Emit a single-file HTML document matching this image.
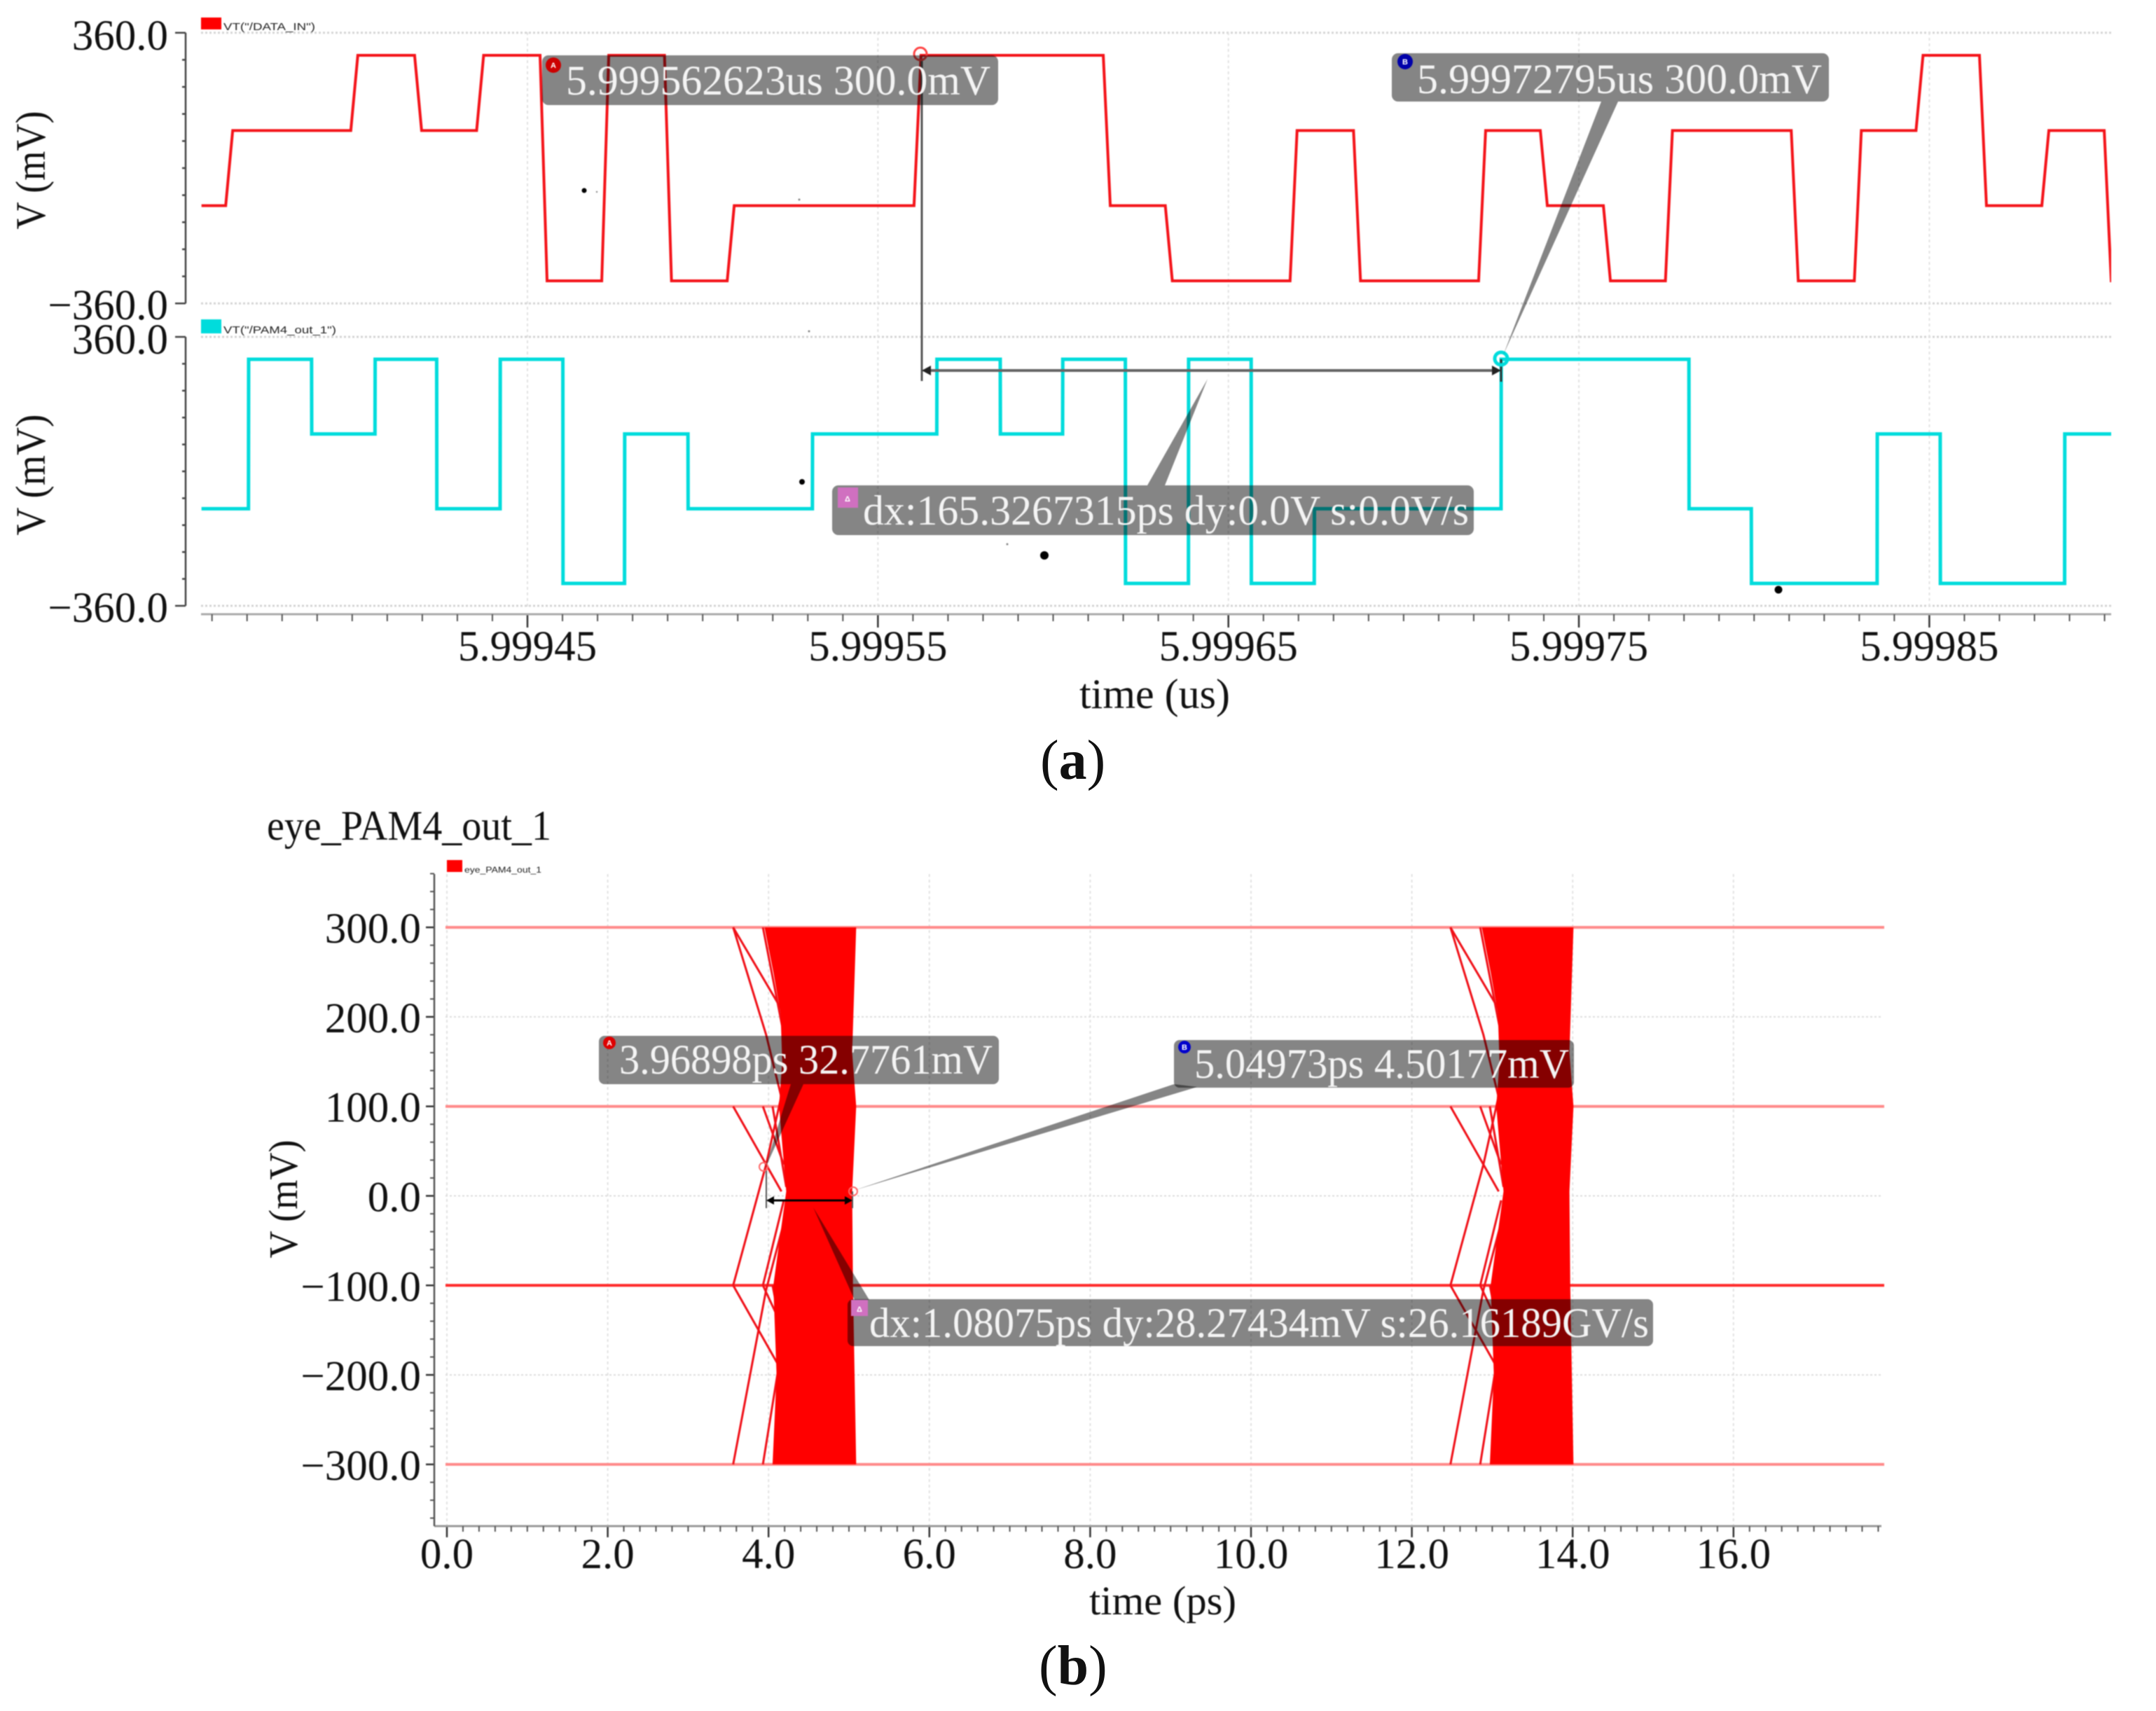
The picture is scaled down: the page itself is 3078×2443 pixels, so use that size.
<!DOCTYPE html>
<html lang="en">
<head>
<meta charset="utf-8">
<title>DATA_IN and PAM4 waveforms with eye diagram</title>
<style>
html,body{margin:0;padding:0;background:#fff;}
svg{display:block;}
text{font-family:"Liberation Serif",serif;fill:#111;}
.mk{font-family:"Liberation Sans",sans-serif;fill:#fff;font-size:11px;font-weight:bold;text-anchor:middle;}
.lbl{fill:#f4f4f4;font-size:60px;}
.lg{font-family:"Liberation Sans",sans-serif;font-size:15px;fill:#222;}
.soft{filter:blur(.8px);}
</style>
</head>
<body>
<svg id="chart" xmlns="http://www.w3.org/2000/svg" width="3078" height="2443" viewBox="0 0 3078 2443">
  <rect x="0" y="0" width="3078" height="2443" fill="#fff"/>
  <defs>
    <clipPath id="clipTop"><rect x="287" y="40" width="2727" height="840"/></clipPath>
  </defs>
  <g class="soft">
  <g id="gridA"></g>
  <g id="axesA"></g>
  <g id="tracesA" clip-path="url(#clipTop)"></g>
  <g id="gridB"></g>
  <g id="axesB"></g>
  <g id="eyeB"></g>

  <!-- panel a static text -->
  <text transform="translate(64,243) rotate(-90)" text-anchor="middle" font-size="60" textLength="169" lengthAdjust="spacingAndGlyphs">V (mV)</text>
  <text transform="translate(64,678) rotate(-90)" text-anchor="middle" font-size="60" textLength="173" lengthAdjust="spacingAndGlyphs">V (mV)</text>
  <text x="1541" y="1011" font-size="60" textLength="215" lengthAdjust="spacingAndGlyphs">time (us)</text>
  <rect x="287" y="25" width="29" height="17" fill="#f00"/>
  <text class="lg" x="319" y="43" textLength="131" lengthAdjust="spacingAndGlyphs">VT("/DATA_IN")</text>
  <rect x="287" y="456" width="29" height="20" fill="#00dcdc"/>
  <text class="lg" x="319" y="476" textLength="161" lengthAdjust="spacingAndGlyphs">VT("/PAM4_out_1")</text>

  <!-- panel a specks -->
  <g fill="#000">
    <circle cx="834" cy="272" r="3.5"/><circle cx="852" cy="274" r="1.2" fill="#888"/><circle cx="1141" cy="285" r="1.5" fill="#888"/>
    <circle cx="1155" cy="473" r="1.5" fill="#888"/><circle cx="1145" cy="688" r="4"/><circle cx="1438" cy="777" r="1.5" fill="#888"/>
    <circle cx="1491" cy="793" r="6"/><circle cx="2539" cy="842" r="5.5"/>
  </g>

  <!-- panel a annotations -->
  <g>
    <line x1="1316" y1="85" x2="1316" y2="544" stroke="#555" stroke-width="3"/>
    <line x1="2143" y1="513" x2="2143" y2="545" stroke="#333" stroke-width="3"/>
    <line x1="1320" y1="529" x2="2138" y2="529" stroke="#666" stroke-width="4"/>
    <path d="M1316 529 l13 -7 v14 z" fill="#222"/>
    <path d="M2143 529 l-13 -7 v14 z" fill="#222"/>
    <circle cx="1314" cy="77" r="9" fill="none" stroke="#f44" stroke-width="3"/>
    <circle cx="2143" cy="512" r="9" fill="none" stroke="#00dcdc" stroke-width="5"/>
  </g>
  <path d="M2286 145 L2310 145 L2146 507 Z" fill="#000" fill-opacity=".48"/>
  <path d="M1724 541 L1638 693 L1663 693 Z" fill="#000" fill-opacity=".48"/>
  <rect x="774" y="79" width="651" height="71" rx="9" fill="#000" fill-opacity=".48"/>
  <text class="lbl" x="808" y="135" textLength="606" lengthAdjust="spacingAndGlyphs">5.999562623us 300.0mV</text>
  <circle cx="790" cy="93" r="11" fill="#c00"/>
  <text class="mk" x="790" y="97">A</text>
  <rect x="1987" y="76" width="624" height="69" rx="9" fill="#000" fill-opacity=".48"/>
  <text class="lbl" x="2023" y="133" textLength="578" lengthAdjust="spacingAndGlyphs">5.99972795us 300.0mV</text>
  <circle cx="2006" cy="88" r="11" fill="#00a"/>
  <text class="mk" x="2006" y="92">B</text>
  <rect x="1188" y="693" width="916" height="71" rx="9" fill="#000" fill-opacity=".48"/>
  <text class="lbl" x="1232" y="749" textLength="865" lengthAdjust="spacingAndGlyphs">dx:165.3267315ps dy:0.0V s:0.0V/s</text>
  <rect x="1196" y="696" width="29" height="29" fill="#d070c0"/>
  <text class="mk" x="1210" y="716">Δ</text>

  <!-- panel b static text -->
  <text x="381" y="1199" font-size="60" textLength="406" lengthAdjust="spacingAndGlyphs">eye_PAM4_out_1</text>
  <rect x="638" y="1228" width="22" height="17" fill="#f00"/>
  <text class="lg" x="663" y="1246" style="font-size:12px" textLength="110" lengthAdjust="spacingAndGlyphs">eye_PAM4_out_1</text>
  <text transform="translate(424,1712) rotate(-90)" text-anchor="middle" font-size="58" textLength="169" lengthAdjust="spacingAndGlyphs">V (mV)</text>
  <text x="1555" y="2305" font-size="58" textLength="210" lengthAdjust="spacingAndGlyphs">time (ps)</text>

  <!-- panel b annotations -->
  <g>
    <line x1="1094" y1="1669" x2="1094" y2="1725" stroke="#555" stroke-width="2"/>
    <line x1="1217" y1="1701" x2="1217" y2="1725" stroke="#555" stroke-width="2"/>
    <line x1="1098" y1="1714" x2="1213" y2="1714" stroke="#000" stroke-width="3"/>
    <path d="M1094 1714 l11 -6 v12 z" fill="#000"/>
    <path d="M1217 1714 l-11 -6 v12 z" fill="#000"/>
    <circle cx="1218" cy="1701" r="6" fill="none" stroke="#f66" stroke-width="2"/>
    <circle cx="1090" cy="1666" r="6" fill="none" stroke="#f66" stroke-width="2"/>
  </g>
  <path d="M1129 1548 L1147 1548 L1092 1669 Z" fill="#000" fill-opacity=".48"/>
  <path d="M1676 1548 L1709 1552 L1218 1700 Z" fill="#000" fill-opacity=".48"/>
  <path d="M1161 1724 L1220 1856 L1241 1856 Z" fill="#000" fill-opacity=".48"/>
  <rect x="855" y="1479" width="571" height="69" rx="8" fill="#000" fill-opacity=".48"/>
  <text class="lbl" x="884" y="1533" textLength="533" lengthAdjust="spacingAndGlyphs">3.96898ps 32.7761mV</text>
  <circle cx="870" cy="1489" r="9" fill="#d00"/>
  <text class="mk" x="870" y="1493">A</text>
  <rect x="1676" y="1485" width="571" height="68" rx="8" fill="#000" fill-opacity=".48"/>
  <text class="lbl" x="1705" y="1539" textLength="535" lengthAdjust="spacingAndGlyphs">5.04973ps 4.50177mV</text>
  <circle cx="1691" cy="1495" r="9" fill="#00c"/>
  <text class="mk" x="1691" y="1499">B</text>
  <rect x="1210" y="1855" width="1150" height="67" rx="8" fill="#000" fill-opacity=".48"/>
  <text class="lbl" x="1241" y="1909" textLength="1113" lengthAdjust="spacingAndGlyphs">dx:1.08075ps dy:28.27434mV s:26.16189GV/s</text>
  <rect x="1215" y="1856" width="24" height="23" fill="#d070c0"/>
  <text class="mk" x="1227" y="1873">Δ</text>
  </g>
  <text x="1485" y="1112" font-size="80">(<tspan font-weight="bold">a</tspan>)</text>
  <text x="1483" y="2405" font-size="80">(<tspan font-weight="bold">b</tspan>)</text>
</svg>

<script>
// ---- Panel (a) data: times are ps after 5.99945 us, levels in mV ----
const topTicksUs = ["5.99945", "5.99955", "5.99965", "5.99975", "5.99985"];
const redStartLevel = -100;
const redEdgeTimes = [-86.1, -50.4, -32.2, -14.5, 3.6, 21.2, 39.1, 57.0, 110.3, 164.3, 182.0, 217.6, 235.7, 271.4, 289.0, 307.0, 324.7, 360.6, 378.6, 396.2, 414.3, 432.1, 449.9];
const redLevels = [100, 300, 100, 300, -300, 300, -300, -100, 300, -100, -300, 100, -300, 100, -100, -300, 100, -300, 100, 300, -100, 100, -300];
const cyanStartLevel = -100;
const cyanEdgeTimes = [-79.6, -61.6, -43.5, -25.9, -7.8, 10.1, 27.7, 45.8, 81.3, 116.8, 134.9, 152.7, 170.6, 188.6, 206.5, 224.5, 277.8, 331.4, 349.2, 385.1, 403.1, 438.6];
const cyanLevels = [300, 100, 300, -100, 300, -300, 100, -100, 100, 300, 100, 300, -300, 300, -300, -100, 300, -100, -300, 100, -300, 100];
const edgeRisePs = 2;
const timeStartPs = -93;
const timeEndPs = 452;

// ---- Panel (b) data: time ps, voltage mV ----
const eyeXTicks = [0, 2, 4, 6, 8, 10, 12, 14, 16];
const eyeXTickLabels = ["0.0", "2.0", "4.0", "6.0", "8.0", "10.0", "12.0", "14.0", "16.0"];
const eyeYTicks = [300, 200, 100, 0, -100, -200, -300];
const eyeYTickLabels = ["300.0", "200.0", "100.0", "0.0", "−100.0", "−200.0", "−300.0"];
const eyeLevels = [300, 100, -100, -300];
const eyeLevelColors = ["#ff8a8a", "#ff8a8a", "#ff2a2a", "#ff8a8a"];
const bandLeftV = [300, 250, 204, 150, 100, 5, -100, -200, -300];
const bandLeftT = [3.95, 4.06, 4.15, 4.17, 4.13, 4.22, 4.06, 4.10, 4.05];
const bandRightV = [-300, -200, -100, 5, 100, 160, 300];
const bandRightT = [5.09, 5.07, 5.05, 5.04, 5.09, 5.04, 5.09];
const strayA_T = [3.56, 4.19]; const strayA_V = [300, 204];
const strayB_T = [3.56, 3.97, 4.16]; const strayB_V = [300, 180, 110];
const strayC_T = [3.56, 4.16]; const strayC_V = [100, 5];
const strayD_T = [3.56, 3.97, 4.19]; const strayD_V = [-100, 35, 124];
const strayE_T = [3.56, 4.16]; const strayE_V = [-100, -195];
const strayF_T = [3.56, 3.97, 4.19]; const strayF_V = [-300, -105, -30];
const strayG_T = [3.93, 4.19]; const strayG_V = [-300, -155];
const strayH_T = [3.93, 4.19]; const strayH_V = [300, 180];
const strayI_T = [3.93, 4.19]; const strayI_V = [100, 35];
const strayJ_T = [3.93, 4.19]; const strayJ_V = [-100, -150];
const strayK_T = [3.93, 4.19]; const strayK_V = [-100, -5];
const strayL_T = [4.05, 4.22]; const strayL_V = [100, 10];
const strayM_T = [4.05, 4.2]; const strayM_V = [-100, -170];
const eyePeriodShifts = [0, 8.92];

// ---- scales ----
const NS = "http://www.w3.org/2000/svg";
const xTop = ps => 753 + ps * 5.0035;
const xTopUs = us => 753 + (us - 5.99945) * 5003500;
const yRed = v => 240 - v * 0.5367;
const yCyan = v => 673 - v * 0.5333;
const xEye = t => 638 + t * 114.8;
const yEye = v => 1707.5 - v * 1.278;
const $ = id => document.getElementById(id);
function mk(tag, parent) { const e = document.createElementNS(NS, tag); parent.appendChild(e); return e; }
function seg(parent, x1, y1, x2, y2, color, w, dash) {
  const l = mk("line", parent);
  l.setAttribute("x1", x1); l.setAttribute("y1", y1); l.setAttribute("x2", x2); l.setAttribute("y2", y2);
  l.setAttribute("stroke", color); l.setAttribute("stroke-width", w);
  if (dash) l.setAttribute("stroke-dasharray", dash);
  return l;
}
function label(parent, x, y, str, size, anchor) {
  const t = mk("text", parent);
  t.setAttribute("x", x); t.setAttribute("y", y); t.setAttribute("font-size", size); t.setAttribute("text-anchor", anchor);
  t.textContent = str;
  return t;
}

// ---- Panel (a) grid and axes ----
const gridA = $("gridA"), axesA = $("axesA");
[yRed(360), yRed(-360), yCyan(360), yCyan(-360)].forEach(y => {
  const g = seg(gridA, 287, y, 3014, y, "#d4d4d4", 3, "3 3");
  
  
});
topTicksUs.forEach(s => {
  const x = xTopUs(parseFloat(s));
  const g = seg(gridA, x, 46, x, 866, "#e2e2e2", 2, "4 4");
  
  
  const tick = seg(axesA, x, 877, x, 896, "#333", 2.5);
  
  
  const t = label(axesA, x, 943, s, 61, "middle");
  
  
});
const xAxisLineA = seg(axesA, 287, 877, 3014, 877, "#aaa", 3);


for (let k = -9; k <= 45; k++) {
  if (k % 10 === 0) continue;
  const x = xTop(k * 10);
  if (x > 3020) continue;
  const tick = seg(axesA, x, 877, x, 887, "#555", 2);
  
  
}
[[yRed, "top"], [yCyan, "bottom"]].forEach(pair => {
  const yf = pair[0];
  const axis = seg(axesA, 265, yf(360), 265, yf(-360), "#444", 2.5);
  
  
  for (let v = -360; v <= 360; v += 72) {
    const major = Math.abs(v) === 360;
    const tick = seg(axesA, major ? 250 : 260, yf(v), 265, yf(v), "#444", 2.5);
    
    
  }
  const up = label(axesA, 240, yf(360) + 24, "360.0", 61, "end");
  
  
  const dn = label(axesA, 240, yf(-360) + 23, "−360.0", 61, "end");
  
  
});

// ---- Panel (a) traces ----
function stepPath(times, levels, start, rise, yf) {
  let prev = start;
  let d = "M" + xTop(timeStartPs) + " " + yf(prev);
  times.forEach((t, i) => {
    d += " L" + xTop(t) + " " + yf(prev);
    d += " L" + xTop(t + rise) + " " + yf(levels[i]);
    prev = levels[i];
  });
  d += " L" + xTop(timeEndPs + 5) + " " + yf(prev);
  return d;
}
const redTrace = mk("path", $("tracesA"));


redTrace.setAttribute("d", stepPath(redEdgeTimes, redLevels, redStartLevel, edgeRisePs, yRed));
redTrace.setAttribute("fill", "none");
redTrace.setAttribute("stroke", "#f4141a");
redTrace.setAttribute("stroke-width", "4");
const cyanTrace = mk("path", $("tracesA"));


cyanTrace.setAttribute("d", stepPath(cyanEdgeTimes, cyanLevels, cyanStartLevel, 0.05, yCyan));
cyanTrace.setAttribute("fill", "none");
cyanTrace.setAttribute("stroke", "#00dcdc");
cyanTrace.setAttribute("stroke-width", "5");

// ---- Panel (b) grid and axes ----
const gridB = $("gridB"), axesB = $("axesB");
eyeXTicks.forEach((t, i) => {
  const x = xEye(t);
  const g = seg(gridB, x, 1248, x, 2179, "#e2e2e2", 2, "4 4");
  
  
  const tick = seg(axesB, x, 2179, x, 2195, "#333", 2.5);
  
  
  const l = label(axesB, x, 2239, eyeXTickLabels[i], 61, "middle");
  
  
});
eyeYTicks.forEach((v, i) => {
  const y = yEye(v);
  const g = seg(gridB, 636, y, 2686, y, "#dcdcdc", 2, "3 3");
  
  
  const tick = seg(axesB, 608, y, 620, y, "#333", 2.5);
  
  
  const l = label(axesB, 601, y + 22, eyeYTickLabels[i], 61, "end");
  
  
});
const xAxisLineB = seg(axesB, 620, 2179, 2686, 2179, "#999", 3);


const yAxisLineB = seg(axesB, 620, 1248, 620, 2179, "#555", 2.5);


for (let k = 0; k <= 89; k++) {
  if (k % 10 === 0) continue;
  const x = xEye(k * 0.2);
  const tick = seg(axesB, x, 2179, x, 2187, "#555", 2);
  
  
}
for (let v = -360; v <= 360; v += 20) {
  if (v % 100 === 0) continue;
  const y = yEye(v);
  const tick = seg(axesB, 614, y, 620, y, "#555", 2);
  
  
}

// ---- Panel (b) eye ----
const eyeG = $("eyeB");
eyeLevels.forEach((v, i) => {
  const l = seg(eyeG, 636, yEye(v), 2690, yEye(v), eyeLevelColors[i], 4);
  
  
});
const strays = [[strayA_T, strayA_V], [strayB_T, strayB_V], [strayC_T, strayC_V], [strayD_T, strayD_V], [strayE_T, strayE_V], [strayF_T, strayF_V], [strayG_T, strayG_V], [strayH_T, strayH_V], [strayI_T, strayI_V], [strayJ_T, strayJ_V], [strayK_T, strayK_V], [strayL_T, strayL_V], [strayM_T, strayM_V]];
eyePeriodShifts.forEach(shift => {
  strays.forEach(s => {
    const p = mk("polyline", eyeG);
    
    
    p.setAttribute("points", s[0].map((t, i) => xEye(t + shift) + "," + yEye(s[1][i])).join(" "));
    p.setAttribute("fill", "none");
    p.setAttribute("stroke", "#f01018");
    p.setAttribute("stroke-width", "3");
  });
  const band = mk("polygon", eyeG);
  
  
  const left = bandLeftT.map((t, i) => xEye(t + shift) + "," + yEye(bandLeftV[i]));
  const right = bandRightT.map((t, i) => xEye(t + shift) + "," + yEye(bandRightV[i]));
  band.setAttribute("points", left.concat(right).join(" "));
  band.setAttribute("fill", "#f00");
});
</script>
</body>
</html>
